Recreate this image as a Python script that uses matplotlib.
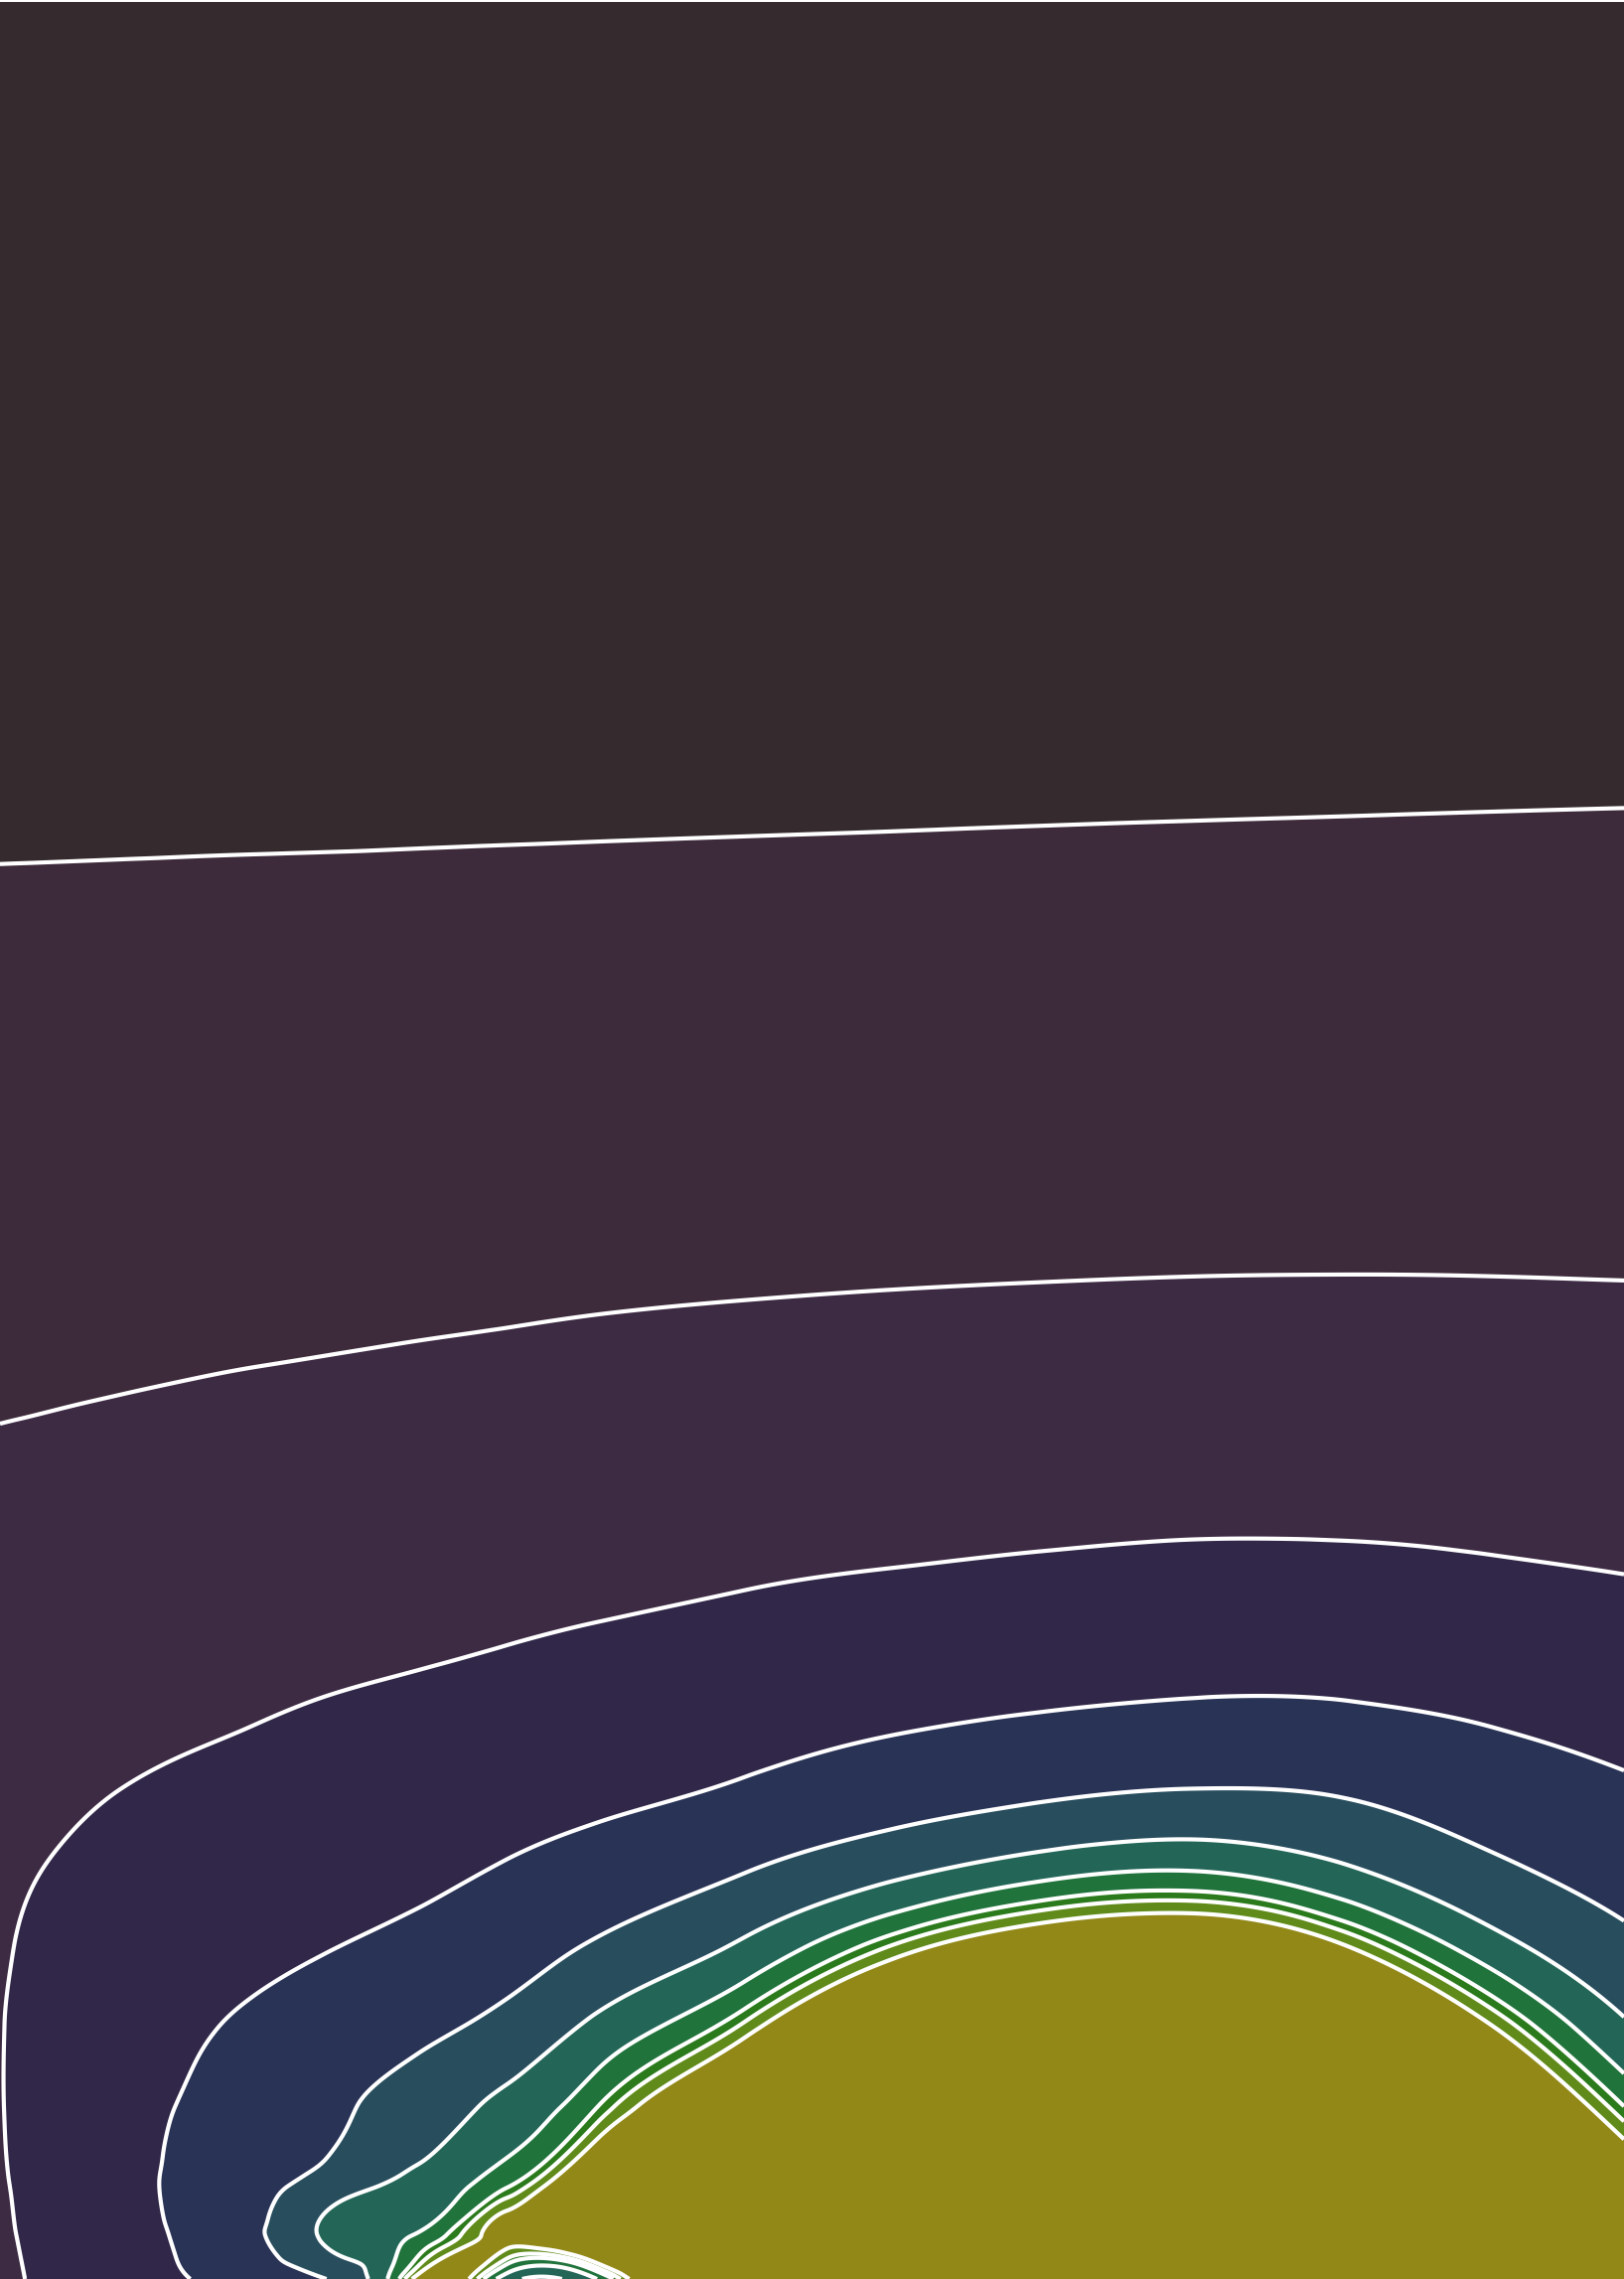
import numpy as np
import matplotlib.pyplot as plt
import matplotlib.tri as mtri

xs = [0, 120, 240, 330, 420, 510, 600, 750, 900, 1050, 1200, 1350, 1500, 1635]
ys = [0, 400, 700, 900, 1100, 1300, 1450, 1600, 1700, 1800, 1880, 1960,
      2040, 2120, 2200, 2250, 2294]

# field values at the grid nodes (rows follow ys, columns follow xs)
field = [
    [-54, -50, -46, -43, -40, -37, -34, -29, -24, -19, -14, -9, -4, 0],
    [346, 350, 354, 357, 360, 363, 366, 371, 376, 381, 386, 391, 396, 400],
    [646, 650, 654, 657, 660, 663, 666, 671, 676, 681, 686, 691, 696, 700],
    [841, 846, 851, 854, 858, 862, 866, 872, 878, 884, 889, 893, 897, 900],
    [1011, 1023, 1035, 1042, 1050, 1058, 1066, 1076, 1085, 1091, 1096, 1099, 1100, 1100],
    [1181, 1200, 1219, 1230, 1242, 1254, 1266, 1280, 1291, 1299, 1305, 1307, 1305, 1300],
    [1300, 1325, 1348, 1364, 1380, 1394, 1410, 1432, 1449, 1461, 1470, 1470, 1463, 1450],
    [1380, 1436, 1470, 1493, 1513, 1533, 1553, 1584, 1609, 1629, 1642, 1641, 1624, 1600],
    [1440, 1509, 1551, 1579, 1600, 1625, 1649, 1688, 1723, 1751, 1769, 1766, 1739, 1700],
    [1500, 1583, 1626, 1656, 1681, 1716, 1745, 1798, 1864, 1908, 1933, 1920, 1856, 1800],
    [1547, 1640, 1681, 1717, 1746, 1791, 1839, 1925, 2006, 2063, 2082, 2038, 1954, 1880],
    [1571, 1674, 1737, 1778, 1819, 1878, 1946, 2044, 2139, 2183, 2195, 2158, 2059, 1960],
    [1580, 1695, 1795, 1853, 1903, 1966, 2045, 2141, 2225, 2263, 2275, 2238, 2156, 2040],
    [1580, 1714, 1848, 1915, 1978, 2049, 2118, 2223, 2305, 2343, 2355, 2318, 2236, 2120],
    [1574, 1718, 1892, 1979, 2048, 2117, 2220, 2303, 2385, 2423, 2435, 2398, 2316, 2200],
    [1568, 1704, 1890, 2045, 2091, 2165, 2235, 2353, 2435, 2473, 2485, 2448, 2366, 2250],
    [1562, 1686, 1832, 1935, 2165, 2060, 2085, 2397, 2479, 2517, 2529, 2492, 2410, 2294],
]

levels = [812, 1288, 1584, 1782, 1933, 2030, 2087, 2120, 2135, 2153]
band_colors = ['#352a2e', '#3d2b3b', '#3d2b44', '#312849', '#293356', '#284e5e',
               '#236658', '#21733c', '#2b7a1c', '#608a1a', '#928818']

# mesh: each grid cell cut in two along the diagonal that follows the bands
Z = np.array(field, dtype=float)
X, Y = np.meshgrid(xs, ys)
ny, nx = Z.shape
tris = []
for i in range(ny - 1):
    for j in range(nx - 1):
        a = i * nx + j
        b = a + 1
        c = a + nx
        d = c + 1
        if xs[j] < 1100:
            tris += [[a, b, c], [b, d, c]]
        else:
            tris += [[a, b, d], [a, d, c]]

triang = mtri.Triangulation(X.ravel(), Y.ravel(), tris)
interp = mtri.CubicTriInterpolator(triang, Z.ravel(), kind='min_E')
refiner = mtri.UniformTriRefiner(triang)
tri_f, z_f = refiner.refine_field(Z.ravel(), triinterpolator=interp, subdiv=5)

fig = plt.figure(figsize=(16.35, 22.94), dpi=100)
ax = fig.add_axes([0, 0, 1, 1 - 2 / 2294])
ax.tricontourf(tri_f, z_f, levels=[-1e4] + levels + [1e4], colors=band_colors)
ax.tricontour(tri_f, z_f, levels=levels, colors='white', linewidths=3)
ax.set_xlim(0, 1635)
ax.set_ylim(2294, 0)
ax.axis('off')

fig.savefig('out.png', dpi=100)
